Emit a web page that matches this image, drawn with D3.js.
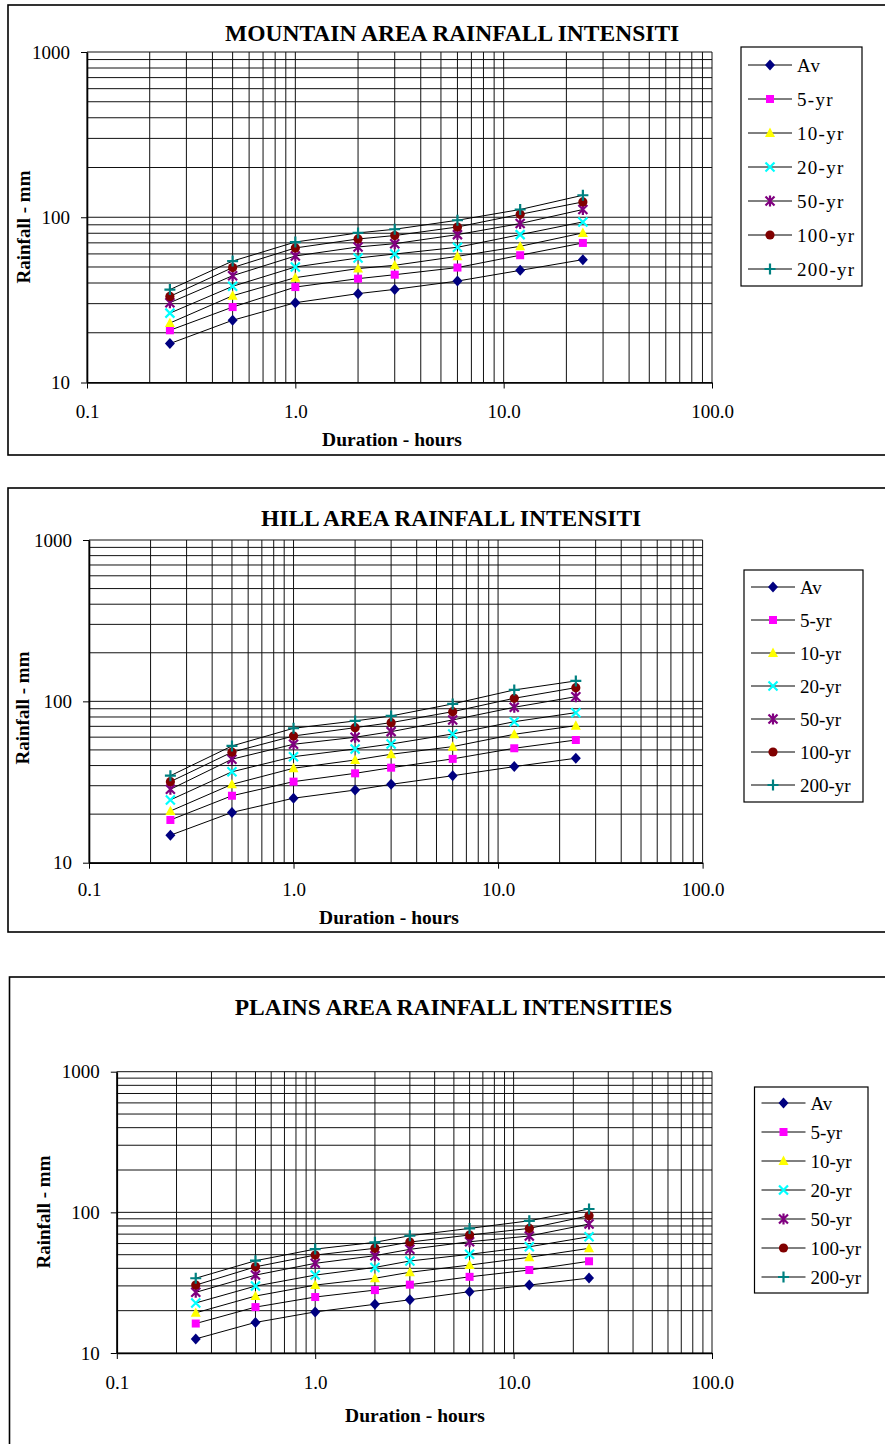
<!DOCTYPE html>
<html>
<head>
<meta charset="utf-8">
<script src="https://cdn.jsdelivr.net/npm/d3@7"></script>
<style>
body { margin: 0; background: #fff; }
svg text { font-family: "Liberation Serif", "Times New Roman", serif; fill: #000; }
</style>
</head>
<body>
<svg id="page" width="885" height="1444"></svg>
<script>
// durations in hours (x) and series names
var durations = [0.25, 0.5, 1, 2, 3, 6, 12, 24];
var seriesNames = ["Av", "5-yr", "10-yr", "20-yr", "50-yr", "100-yr", "200-yr"];
var seriesColors = ["#000080", "#ff00ff", "#ffff00", "#00ffff", "#800080", "#800000", "#008080"];
var seriesMarkers = ["diamond", "square", "triangle", "x", "star", "circle", "plus"];

var xTickValues = [0.1, 1, 10, 100];
var yTickValues = [10, 100, 1000];

// rainfall (mm), one row per series, in the order of seriesNames
var mountainValues = [
	[17.2, 23.8, 30.4, 34.5, 36.6, 41.1, 47.7, 55.4],
	[20.7, 28.6, 37.8, 42.5, 44.9, 49.6, 58.9, 69.9],
	[22.9, 33.5, 43.1, 48.9, 51.2, 58.0, 66.7, 80.4],
	[26.3, 38.2, 50.0, 56.7, 59.9, 65.8, 78.5, 93.7],
	[30.4, 44.3, 58.3, 66.1, 69.2, 78.5, 91.6, 111.4],
	[33.2, 49.6, 65.2, 73.9, 77.5, 87.3, 104.2, 123.8],
	[36.5, 54.3, 70.8, 80.4, 84.6, 95.9, 111.4, 135.9]
];
var hillValues = [
	[14.8, 20.5, 25.1, 28.2, 30.6, 34.6, 39.4, 44.4],
	[18.4, 26.0, 31.8, 35.8, 38.8, 44.0, 51.2, 57.6],
	[20.9, 30.6, 38.5, 43.3, 47.0, 52.4, 62.5, 70.7],
	[24.5, 36.6, 45.4, 50.7, 54.4, 62.8, 74.8, 85.1],
	[28.5, 43.8, 54.2, 59.9, 64.9, 76.7, 91.9, 106.9],
	[31.8, 48.4, 61.0, 68.7, 73.8, 86.3, 104.5, 121.6],
	[34.6, 52.9, 68.1, 75.6, 81.2, 96.4, 117.7, 133.8]
];
var plainsValues = [
	[12.6, 16.5, 19.6, 22.2, 23.9, 27.3, 30.4, 34.1],
	[16.2, 21.2, 25.0, 28.0, 30.6, 34.8, 38.9, 44.9],
	[19.3, 25.4, 30.4, 34.0, 37.5, 42.2, 47.9, 55.5],
	[22.7, 29.9, 35.8, 40.6, 45.1, 50.3, 56.9, 67.1],
	[27.0, 35.8, 43.4, 49.2, 54.6, 61.8, 67.9, 82.6],
	[30.4, 41.0, 49.7, 55.5, 61.5, 69.0, 76.9, 94.6],
	[34.0, 45.3, 54.8, 61.2, 68.2, 76.9, 87.1, 105.6]
];

var svg = d3.select("#page");

drawChart({
	title: "MOUNTAIN AREA RAINFALL INTENSITI", titleX: 225, titleY: 41, titleAnchor: "start",
	border: {x: 8, y: 5, h: 450},
	plot: {left: 87, right: 712, top: 52, bottom: 382.5},
	legend: {x: 741, y: 47, w: 121, h: 239, first: 65, step: 34, spacing: 1.3},
	yTitle: {x: 23, y: 227}, xTitle: {x: 392, y: 439}, xLabelY: 412
}, mountainValues);

drawChart({
	title: "HILL AREA RAINFALL INTENSITI", titleX: 261, titleY: 526, titleAnchor: "start",
	border: {x: 8, y: 488, h: 444},
	plot: {left: 89, right: 702.6, top: 540, bottom: 862.7},
	legend: {x: 744, y: 570, w: 119, h: 232, first: 587, step: 33, spacing: 0},
	yTitle: {x: 22, y: 708}, xTitle: {x: 389, y: 917}, xLabelY: 890
}, hillValues);

drawChart({
	title: "PLAINS AREA RAINFALL INTENSITIES", titleX: 453.5, titleY: 1015, titleAnchor: "middle",
	border: {x: 9.5, y: 977, h: 500},
	plot: {left: 116.8, right: 712, top: 1071.7, bottom: 1353},
	legend: {x: 754.5, y: 1087, w: 113.5, h: 206, first: 1103, step: 29, spacing: 0},
	yTitle: {x: 43, y: 1212}, xTitle: {x: 415, y: 1415}, xLabelY: 1382.7
}, plainsValues);

function drawChart(cfg, values) {
	var p = cfg.plot;
	var g = svg.append("g");

	// outer frame (right side runs off the page)
	g.append("rect")
		.attr("x", cfg.border.x)
		.attr("y", cfg.border.y)
		.attr("width", 920)
		.attr("height", cfg.border.h)
		.attr("fill", "none")
		.attr("stroke", "#000")
		.attr("stroke-width", 1.6);

	g.append("text")
		.attr("x", cfg.titleX)
		.attr("y", cfg.titleY)
		.attr("text-anchor", cfg.titleAnchor)
		.attr("font-size", 23.5)
		.attr("font-weight", "bold")
		.text(cfg.title);

	var x = d3.scaleLog().domain([0.1, 100]).range([p.left, p.right]);
	var y = d3.scaleLog().domain([10, 1000]).range([p.bottom, p.top]);

	// log grid, every 1..9 of each decade
	g.append("g").selectAll("line")
		.data(x.ticks())
		.enter().append("line")
		.attr("x1", function(d) { return x(d); })
		.attr("x2", function(d) { return x(d); })
		.attr("y1", p.top)
		.attr("y2", p.bottom)
		.attr("stroke", "#111")
		.attr("stroke-width", 1);

	g.append("g").selectAll("line")
		.data(y.ticks())
		.enter().append("line")
		.attr("x1", p.left)
		.attr("x2", p.right)
		.attr("y1", function(d) { return y(d); })
		.attr("y2", function(d) { return y(d); })
		.attr("stroke", "#111")
		.attr("stroke-width", 1);

	var xAxis = g.append("g")
		.attr("transform", "translate(0," + p.bottom + ")")
		.call(d3.axisBottom(x).tickValues(xTickValues).tickFormat(d3.format(".1f"))
			.tickSize(6).tickSizeOuter(0).tickPadding(cfg.xLabelY - p.bottom - 13));
	var yAxis = g.append("g")
		.attr("transform", "translate(" + p.left + ",0)")
		.call(d3.axisLeft(y).tickValues(yTickValues).tickFormat(d3.format("d"))
			.tickSize(6).tickSizeOuter(0).tickPadding(11));
	[xAxis, yAxis].forEach(function(a) {
		a.attr("font-size", 19).attr("font-family", null);
		a.select(".domain").attr("stroke-width", 1.6);
	});

	// axis titles
	g.append("text")
		.attr("x", cfg.xTitle.x)
		.attr("y", cfg.xTitle.y)
		.attr("dy", "0.35em")
		.attr("text-anchor", "middle")
		.attr("font-size", 19.5)
		.attr("font-weight", "bold")
		.text("Duration - hours");
	g.append("text")
		.attr("transform", "translate(" + cfg.yTitle.x + "," + cfg.yTitle.y + ") rotate(-90)")
		.attr("dy", "0.35em")
		.attr("text-anchor", "middle")
		.attr("font-size", 19)
		.attr("font-weight", "bold")
		.text("Rainfall - mm");

	var line = d3.line()
		.x(function(d) { return x(d[0]); })
		.y(function(d) { return y(d[1]); });

	var series = values.map(function(row, i) {
		return {i: i, points: durations.map(function(h, j) { return [h, row[j]]; })};
	});

	g.append("g").selectAll("path")
		.data(series)
		.enter().append("path")
		.attr("d", function(s) { return line(s.points); })
		.attr("fill", "none")
		.attr("stroke", "#000")
		.attr("stroke-width", 1);

	series.forEach(function(s) {
		s.points.forEach(function(pt) {
			drawMarker(g, x(pt[0]), y(pt[1]), s.i);
		});
	});

	// legend
	var L = cfg.legend;
	g.append("rect")
		.attr("x", L.x)
		.attr("y", L.y)
		.attr("width", L.w)
		.attr("height", L.h)
		.attr("fill", "#fff")
		.attr("stroke", "#000")
		.attr("stroke-width", 1.2);
	seriesNames.forEach(function(name, i) {
		var ly = L.first + i * L.step;
		g.append("line")
			.attr("x1", L.x + 7)
			.attr("x2", L.x + 51)
			.attr("y1", ly)
			.attr("y2", ly)
			.attr("stroke", "#000")
			.attr("stroke-width", 1);
		drawMarker(g, L.x + 29, ly, i);
		g.append("text")
			.attr("x", L.x + 56)
			.attr("y", ly)
			.attr("dy", "0.35em")
			.attr("font-size", 19)
			.attr("letter-spacing", L.spacing)
			.text(name);
	});
}

function drawMarker(g, cx, cy, i) {
	var c = seriesColors[i];
	var m = g.append("g").attr("transform", "translate(" + cx + "," + cy + ")");
	switch (seriesMarkers[i]) {
		case "diamond":
			m.append("path").attr("d", "M0,-5.5L5,0L0,5.5L-5,0Z").attr("fill", c);
			break;
		case "square":
			m.append("rect").attr("x", -4).attr("y", -4).attr("width", 8).attr("height", 8).attr("fill", c);
			break;
		case "triangle":
			m.append("path").attr("d", "M0,-5.4L5,4L-5,4Z").attr("fill", c);
			break;
		case "x":
			m.append("path").attr("d", "M-4.5,-4.5L4.5,4.5M-4.5,4.5L4.5,-4.5").attr("stroke", c).attr("stroke-width", 2.2);
			break;
		case "star":
			m.append("path").attr("d", "M-4.5,-4.5L4.5,4.5M-4.5,4.5L4.5,-4.5M0,-5.5L0,5.5").attr("stroke", c).attr("stroke-width", 2.2);
			break;
		case "circle":
			m.append("circle").attr("r", 4.6).attr("fill", c);
			break;
		case "plus":
			m.append("path").attr("d", "M-5.5,0L5.5,0M0,-5.5L0,5.5").attr("stroke", c).attr("stroke-width", 2.2);
			break;
	}
}
</script>
</body>
</html>
